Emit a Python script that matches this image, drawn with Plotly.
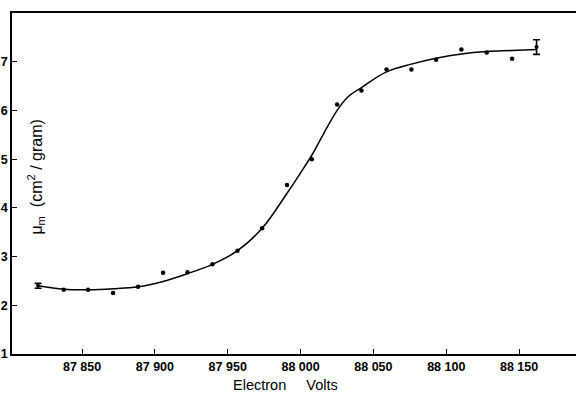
import plotly.graph_objects as go

# measured points (eV, mu_m)
energy = [87837.4, 87854.1, 87871.3, 87888.4, 87905.6, 87922.4, 87939.5, 87956.7,
          87973.6, 87990.7, 88007.7, 88025.1, 88041.8, 88059.0, 88076.1, 88093.0,
          88110.4, 88127.8, 88145.2]
mu = [2.32, 2.32, 2.25, 2.38, 2.67, 2.68, 2.84, 3.12,
      3.58, 4.47, 5.00, 6.12, 6.41, 6.84, 6.84, 7.04,
      7.25, 7.19, 7.06]

# points with error bars
err_energy = [87819.8, 88162.0]
err_mu = [2.40, 7.30]
err_size = [0.05, 0.15]

# hand-drawn smooth curve
curve_energy = [87819.8, 87837.4, 87854.1, 87871.3, 87888.4, 87905.6, 87922.4, 87939.5,
                87956.7, 87973.6, 87990.7, 88000.0, 88007.7, 88015.4, 88025.1, 88032.6,
                88041.8, 88059.0, 88076.1, 88093.0, 88110.4, 88127.8, 88145.2, 88162.0]
curve_mu = [2.40, 2.33, 2.32, 2.34, 2.38, 2.49, 2.65, 2.84,
            3.12, 3.58, 4.30, 4.72, 5.08, 5.50, 6.00, 6.28,
            6.47, 6.79, 6.95, 7.07, 7.16, 7.21, 7.23, 7.25]

x_ticks = [87850, 87900, 87950, 88000, 88050, 88100, 88150]
x_tick_text = ["87 850", "87 900", "87 950", "88 000", "88 050", "88 100", "88 150"]
y_ticks = [1, 2, 3, 4, 5, 6, 7]

fig = go.Figure()
fig.add_trace(go.Scatter(x=curve_energy, y=curve_mu, mode="lines",
                         line=dict(color="black", width=1.5, shape="spline", smoothing=1.0),
                         hoverinfo="skip", showlegend=False))
fig.add_trace(go.Scatter(x=energy, y=mu, mode="markers",
                         marker=dict(color="black", size=4.5), showlegend=False))
fig.add_trace(go.Scatter(x=err_energy, y=err_mu, mode="markers",
                         marker=dict(color="black", size=4),
                         error_y=dict(type="data", array=err_size, color="black",
                                      thickness=1.6, width=3.5),
                         showlegend=False))

tick_font = dict(family="Liberation Sans, Arial, sans-serif", size=12.5, color="black", weight="bold")

# plot area runs slightly past the window's right edge, as in the cropped original
fig.update_layout(
    width=582, height=394,
    margin=dict(l=12, r=0, t=13, b=40),
    paper_bgcolor="white", plot_bgcolor="white",
    xaxis=dict(range=[87801.9, 88193.2], tickvals=x_ticks, ticktext=x_tick_text,
               ticks="inside", ticklen=5, tickwidth=1.3, tickcolor="black",
               showline=True, linecolor="black", linewidth=1.8, mirror=True,
               showgrid=False, zeroline=False, tickfont=tick_font, automargin=False),
    yaxis=dict(range=[1, 8], tickvals=y_ticks,
               ticks="inside", ticklen=5, tickwidth=1.3, tickcolor="black",
               showline=True, linecolor="black", linewidth=1.8, mirror=False,
               showgrid=False, zeroline=False, tickfont=tick_font, automargin=False),
    annotations=[
        dict(text="Electron&nbsp;&nbsp;&nbsp;&nbsp;&nbsp;Volts", xref="paper", yref="paper",
             x=0.479, y=-0.09, xanchor="center", yanchor="middle", showarrow=False,
             font=dict(family="Liberation Sans, Arial, sans-serif", size=14.5, color="black")),
        dict(text="μ<sub>m</sub>  (cm<sup>2</sup> / gram)", xref="paper", yref="paper",
             x=0.042, y=0.52, xanchor="center", yanchor="middle", textangle=-90,
             showarrow=False,
             font=dict(family="Liberation Sans, Arial, sans-serif", size=16, color="black")),
    ],
)

fig.write_html("out.html", config={"displayModeBar": False},
               post_script="document.body.style.margin='0';document.body.style.padding='0';"
                           "document.body.style.overflow='hidden';"
                           "document.documentElement.style.overflow='hidden';")
